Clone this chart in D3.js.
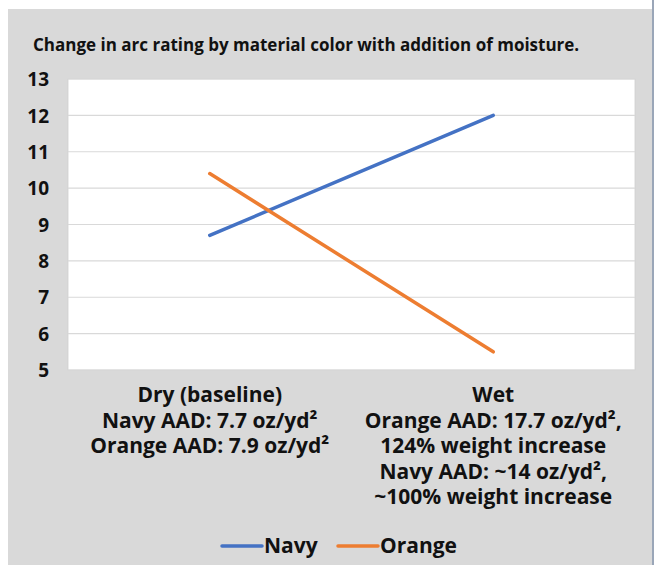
<!DOCTYPE html>
<html>
<head>
<meta charset="utf-8">
<script src="https://cdn.jsdelivr.net/npm/d3@7"></script>
<style>
  html, body { margin: 0; padding: 0; background: #fff; }
  svg { display: block; }
  text { font-family: "Open Sans", sans-serif; font-weight: 700; fill: #111; }
</style>
</head>
<body>
<svg id="chart"></svg>
<script>
// Chart data
const categories = ['Dry', 'Wet'];
const navyValues = [8.7, 12];
const orangeValues = [10.4, 5.5];
const yTicks = [5, 6, 7, 8, 9, 10, 11, 12, 13];
const seriesNames = ['Navy', 'Orange'];
const categoryLabels = [
  ['Dry (baseline)', 'Navy AAD: 7.7 oz/yd²', 'Orange AAD: 7.9 oz/yd²'],
  ['Wet', 'Orange AAD: 17.7 oz/yd²,', '124% weight increase', 'Navy AAD: ~14 oz/yd²,', '~100% weight increase']
];
const titleText = 'Change in arc rating by material color with addition of moisture.';

const WIDTH = 654, HEIGHT = 565;
const plot = { left: 68, right: 635, top: 79, bottom: 370 };
const colors = { Navy: '#4472C4', Orange: '#ED7D31' };

const svg = d3.select('#chart')
  .attr('width', WIDTH)
  .attr('height', HEIGHT);

// Background panel
svg.append('rect')
  .attr('x', 8).attr('y', 9)
  .attr('width', 644).attr('height', HEIGHT - 9)
  .attr('fill', '#d9d9d9');
svg.append('rect')
  .attr('x', 652).attr('y', 0)
  .attr('width', 2).attr('height', HEIGHT)
  .attr('fill', '#9aa6b8');

// Title
svg.append('text')
  .attr('x', 33).attr('y', 51)
  .attr('font-size', '17px')
  .text(titleText);

// Scales
const x = d3.scalePoint()
  .domain(categories)
  .range([plot.left, plot.right])
  .padding(0.5);

const y = d3.scaleLinear()
  .domain([5, 13])
  .range([plot.bottom, plot.top]);

// Plot area
svg.append('rect')
  .attr('x', plot.left).attr('y', plot.top)
  .attr('width', plot.right - plot.left)
  .attr('height', plot.bottom - plot.top)
  .attr('fill', '#fff')
  .attr('stroke', '#d0d0d0')
  .attr('stroke-width', 0.8);

// Gridlines
svg.append('g')
  .selectAll('line')
  .data(yTicks)
  .enter().append('line')
  .attr('x1', plot.left).attr('x2', plot.right)
  .attr('y1', d => y(d)).attr('y2', d => y(d))
  .attr('stroke', '#d9d9d9')
  .attr('stroke-width', 1.2);

// Y axis labels
const yAxis = svg.append('g')
  .attr('transform', `translate(${plot.left},0)`)
  .call(d3.axisLeft(y).tickValues(yTicks).tickSize(0).tickPadding(19));
yAxis.select('.domain').remove();
yAxis.selectAll('text')
  .attr('font-size', '19px')
  .attr('font-family', '"Open Sans", sans-serif')
  .attr('font-weight', 700)
  .attr('fill', '#111')
  .attr('dy', '0.35em');

// Category labels
categories.forEach((c, i) => {
  svg.append('text')
    .attr('text-anchor', 'middle')
    .attr('font-size', '21px')
    .selectAll('tspan')
    .data(categoryLabels[i])
    .enter().append('tspan')
    .attr('x', x(c))
    .attr('y', (d, j) => 402 + j * 25.5)
    .text(d => d);
});

// Lines
const line = d3.line()
  .x((d, i) => x(categories[i]))
  .y(d => y(d));

[navyValues, orangeValues].forEach((vals, i) => {
  svg.append('path')
    .datum(vals)
    .attr('d', line)
    .attr('fill', 'none')
    .attr('stroke', colors[seriesNames[i]])
    .attr('stroke-width', 3.5)
    .attr('stroke-linecap', 'round');
});

// Legend
const legendX = [220, 336];
const legend = svg.append('g');
seriesNames.forEach((name, i) => {
  legend.append('line')
    .attr('x1', legendX[i] + 2).attr('x2', legendX[i] + 42)
    .attr('y1', 546).attr('y2', 546)
    .attr('stroke', colors[name])
    .attr('stroke-width', 3.5)
    .attr('stroke-linecap', 'round');
  legend.append('text')
    .attr('x', legendX[i] + 44)
    .attr('y', 553)
    .attr('font-size', '21px')
    .text(name);
});
</script>
</body>
</html>
